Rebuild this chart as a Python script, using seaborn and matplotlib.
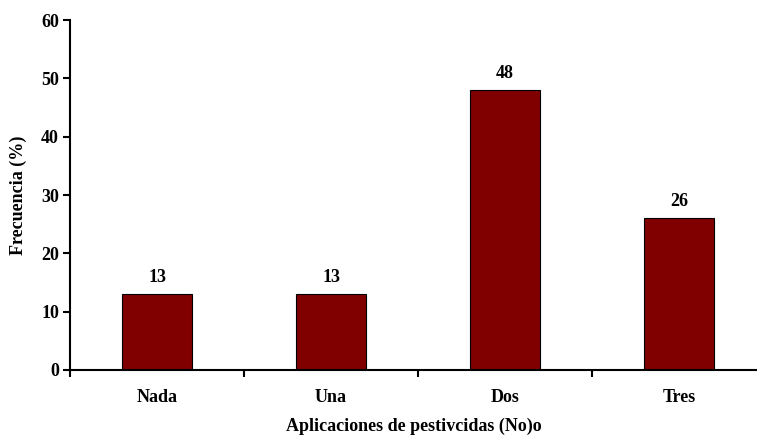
import matplotlib
matplotlib.use('Agg')
import matplotlib.pyplot as plt
import seaborn as sns
import pandas as pd
from matplotlib.ticker import FixedLocator

categorias = ['Nada', 'Una', 'Dos', 'Tres']
frecuencia = [13, 13, 48, 26]

sns.set_style('ticks')
plt.rcParams['font.family'] = ['Liberation Serif', 'DejaVu Serif']
plt.rcParams['font.weight'] = 'bold'
plt.rcParams['text.color'] = 'black'
plt.rcParams['axes.labelcolor'] = 'black'
plt.rcParams['xtick.color'] = 'black'
plt.rcParams['ytick.color'] = 'black'
plt.rcParams['axes.edgecolor'] = 'black'

df = pd.DataFrame({'cat': categorias, 'freq': frecuencia})

fig = plt.figure(figsize=(7.57, 4.36), dpi=100)
ax = fig.add_axes([0.0925, 0.1514, 0.9075, 0.8026])

sns.barplot(data=df, x='cat', y='freq', color='#800000', edgecolor='black',
            linewidth=0.8, width=0.4, saturation=1, ax=ax)

for i, v in enumerate(frecuencia):
    ax.text(i, v + 1.4, str(v), ha='center', va='bottom', fontsize=13, fontweight='bold')

ax.set_ylim(0, 60)
ax.set_xlim(-0.5, 3.448)
ax.set_yticks(range(0, 61, 10))
ax.tick_params(axis='y', direction='out', length=5, width=1.5, labelsize=13, pad=3)
ax.tick_params(axis='x', which='major', length=0, labelsize=13, pad=14)
ax.xaxis.set_minor_locator(FixedLocator([-0.5, 0.5, 1.5, 2.5]))
ax.tick_params(axis='x', which='minor', direction='out', length=5, width=1.5)
for lbl in ax.get_xticklabels() + ax.get_yticklabels():
    lbl.set_fontweight('bold')

sns.despine(ax=ax)
ax.spines['left'].set_linewidth(1.5)
ax.spines['bottom'].set_linewidth(1.5)

ax.set_xlabel('Aplicaciones de pestivcidas (No)o', fontsize=13, fontweight='bold', labelpad=8)
ax.set_ylabel('Frecuencia (%)', fontsize=13, fontweight='bold', labelpad=10)

fig.savefig('out.png', dpi=100)
